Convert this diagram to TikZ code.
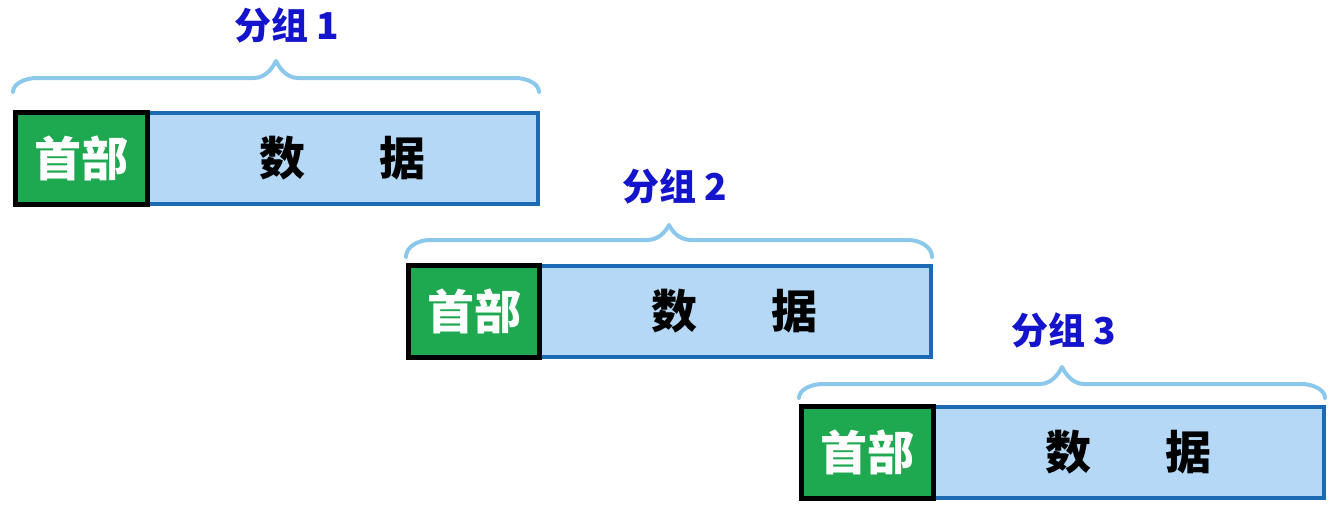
\documentclass[tikz,border=0pt]{standalone}
\usepackage{fontspec}
\newfontfamily\cjk{Noto Sans CJK SC}
\usetikzlibrary{calc}
\definecolor{hdrgreen}{RGB}{30,168,80}
\definecolor{datafill}{RGB}{180,216,245}
\definecolor{databorder}{RGB}{28,105,180}
\definecolor{bracecol}{RGB}{140,200,235}
\definecolor{lblblue}{RGB}{20,20,205}
\begin{document}
\begin{tikzpicture}[x=1pt,y=-1pt,
  hdr/.style={draw=black, line width=5pt, fill=hdrgreen, minimum height=92pt, inner sep=0pt, font=\cjk\bfseries\fontsize{47}{47}\selectfont, text=white},
  databox/.style={draw=databorder, line width=4pt, fill=datafill, minimum height=91pt, inner sep=0pt, anchor=east, font=\cjk\bfseries\fontsize{46}{46}\selectfont, text=black},
  bracestyle/.style={draw=bracecol, line width=4pt, line cap=round, line join=round},
  lbl/.style={font=\cjk\bfseries\fontsize{37}{37}\selectfont, text=lblblue, inner sep=0pt}]
\useasboundingbox (0,0) rectangle (1342,517);
\foreach \n/\hl/\hr/\cy/\dr/\be/\bh/\bt/\lx/\ly in {1/13/150/158/542/92/78/61/287/25, 2/406/542/311.5/935/257/240/225/675/186, 3/799/936/452.5/1328/398/384/367/1064/330}{
  \pgfmathsetmacro{\dw}{\dr-2-(\hr-2.5)}
  \pgfmathsetmacro{\hw}{\hr-\hl-5}
  \pgfmathsetmacro{\dh}{\bh-\be}
  \pgfmathsetmacro{\dt}{\bh-\bt}
  \node[databox, minimum width=\dw pt] (d\n) at (\dr-2,\cy) {\hspace{1pt}数\hspace{1.6em}据};
  \node[hdr, minimum width=\hw pt] (h\n) at ({(\hl+\hr)/2},\cy) {首部};
  \coordinate (bl\n) at (\hl,\be);
  \coordinate (br\n) at (\dr-3,\be);
  \coordinate (tip\n) at ({(\hl+\dr-3)/2},\bt);
  \draw[bracestyle] (bl\n) .. controls +(0,{\dh*0.6}) and +(-12,0) .. ($(bl\n)+(24,\dh)$)
    -- ($(tip\n)+(-22,\dt)$) .. controls +(12,0) and +(-3,6) .. (tip\n)
    .. controls +(3,6) and +(-12,0) .. ($(tip\n)+(22,\dt)$)
    -- ($(br\n)+(-24,\dh)$) .. controls +(12,0) and +(0,{\dh*0.6}) .. (br\n);
  \node[lbl] (l\n) at (\lx,\ly) {分组 \n};
}
\end{tikzpicture}
\end{document}
